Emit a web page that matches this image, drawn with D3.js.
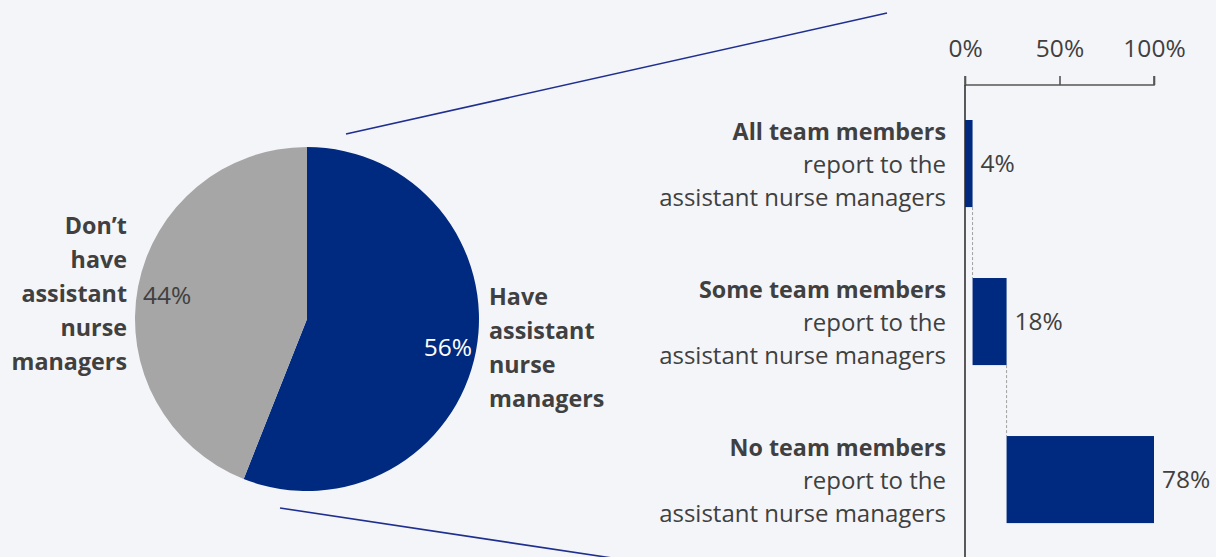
<!DOCTYPE html>
<html>
<head>
<meta charset="utf-8">
<script src="https://cdn.jsdelivr.net/npm/d3@7"></script>
<style>
  html, body { margin: 0; padding: 0; background: #f4f5f8; }
  svg { display: block; font-family: "Open Sans", sans-serif; }
</style>
</head>
<body>
<svg id="chart" width="1216" height="557"></svg>
<script>
// Pie: share of units with / without assistant nurse managers
const pieCategories = ["Have assistant nurse managers", "Don’t have assistant nurse managers"];
const pieValues = [56, 44];
const pieColors = ["#002a80", "#a6a6a6"];
const pieLabelLines = [["Have", "assistant", "nurse", "managers"], ["Don’t", "have", "assistant", "nurse", "managers"]];

// Bars: reporting structure among those that have them
const barCategoriesBold = ["All team members", "Some team members", "No team members"];
const barCategoriesRest = ["report to the", "assistant nurse managers"];
const barValues = [4, 18, 78];
const axisTicks = [0, 50, 100];

const textColor = "#404040";
const numSize = 24.5, regSize = 24, boldSize = 23.3;
const svg = d3.select("#chart");

// ---------- pie ----------
const cx = 307, cy = 319, r = 172;
const pie = d3.pie().sort(null).value(d => d)(pieValues);
const arc = d3.arc().innerRadius(0).outerRadius(r);
const gPie = svg.append("g").attr("transform", `translate(${cx},${cy})`);
gPie.selectAll("path").data(pie).join("path")
  .attr("d", arc).attr("fill", (d, i) => pieColors[i]);

// value labels inside slices
gPie.append("text").attr("x", 165).attr("y", 37).attr("text-anchor", "end")
  .attr("font-size", numSize).attr("fill", "#ffffff").text(pieValues[0] + "%");
gPie.append("text").attr("x", -164).attr("y", -15).attr("text-anchor", "start")
  .attr("font-size", numSize).attr("fill", textColor).text(pieValues[1] + "%");

// category labels beside the pie
const lh = 34;
svg.append("text").attr("x", 489).attr("y", 305)
  .attr("font-size", boldSize).attr("font-weight", "bold").attr("fill", textColor)
  .selectAll("tspan").data(pieLabelLines[0]).join("tspan")
  .attr("x", 489).attr("dy", (d, i) => i ? lh : 0).text(d => d);
svg.append("text").attr("y", 234).attr("text-anchor", "end")
  .attr("font-size", boldSize).attr("font-weight", "bold").attr("fill", textColor)
  .selectAll("tspan").data(pieLabelLines[1]).join("tspan")
  .attr("x", 127).attr("dy", (d, i) => i ? lh : 0).text(d => d);

// connector lines from the blue slice to the bar panel
svg.append("line").attr("x1", 346).attr("y1", 134).attr("x2", 887).attr("y2", 13)
  .attr("stroke", "#1f2f8f").attr("stroke-width", 1.6);
svg.append("line").attr("x1", 280).attr("y1", 508).attr("x2", 612).attr("y2", 558)
  .attr("stroke", "#1f2f8f").attr("stroke-width", 1.6);

// ---------- bars ----------
const x = d3.scaleLinear().domain([0, 100]).range([965, 1154]);
const y = d3.scaleBand().domain(barCategoriesBold).range([88.4, 554.7]).paddingInner(0.449).paddingOuter(0.2);

const axisY = 85;
const axis = d3.axisTop(x).tickValues(axisTicks).tickFormat(d => d + "%").tickSize(9).tickPadding(19);
const gAxis = svg.append("g").attr("transform", `translate(0,${axisY})`).call(axis);
gAxis.select(".domain").attr("stroke", "#555").attr("stroke-width", 1.6).attr("d", `M${x(0)},-9V0H${x(100)}V-9`);
gAxis.selectAll(".tick line").attr("stroke", "#555").attr("stroke-width", 1.6);
gAxis.selectAll(".tick text").attr("font-size", numSize).attr("fill", textColor)
  .attr("font-family", "Open Sans, sans-serif");

// vertical baseline
svg.append("line").attr("x1", x(0)).attr("x2", x(0)).attr("y1", axisY).attr("y2", 557)
  .attr("stroke", "#333").attr("stroke-width", 1.6);

// cumulative (waterfall) placement
let cum = 0;
const bars = barValues.map((v, i) => { const s = cum; cum += v; return { cat: barCategoriesBold[i], start: s, end: cum, v }; });

svg.selectAll("rect.bar").data(bars).join("rect").attr("class", "bar")
  .attr("x", d => x(d.start)).attr("width", d => x(d.end) - x(d.start))
  .attr("y", d => y(d.cat)).attr("height", y.bandwidth())
  .attr("fill", "#002a80");

// dashed step connectors
svg.selectAll("line.step").data(bars.slice(0, -1)).join("line").attr("class", "step")
  .attr("x1", d => x(d.end)).attr("x2", d => x(d.end))
  .attr("y1", d => y(d.cat) + y.bandwidth())
  .attr("y2", (d, i) => y(bars[i + 1].cat))
  .attr("stroke", "#a0a0a0").attr("stroke-width", 1).attr("stroke-dasharray", "3,2");

// value labels
svg.selectAll("text.val").data(bars).join("text").attr("class", "val")
  .attr("x", d => x(d.end) + 8).attr("y", d => y(d.cat) + y.bandwidth() / 2 + 8)
  .attr("font-size", numSize).attr("fill", textColor).text(d => d.v + "%");

// category labels
const catG = svg.selectAll("text.cat").data(bars).join("text").attr("class", "cat")
  .attr("text-anchor", "end").attr("font-size", regSize).attr("fill", textColor)
  .attr("y", d => y(d.cat) + 20);
catG.append("tspan").attr("x", 946).attr("font-weight", "bold").attr("font-size", boldSize).text(d => d.cat);
catG.append("tspan").attr("x", 946).attr("dy", 33).text(barCategoriesRest[0]);
catG.append("tspan").attr("x", 946).attr("dy", 33).text(barCategoriesRest[1]);
</script>
</body>
</html>
